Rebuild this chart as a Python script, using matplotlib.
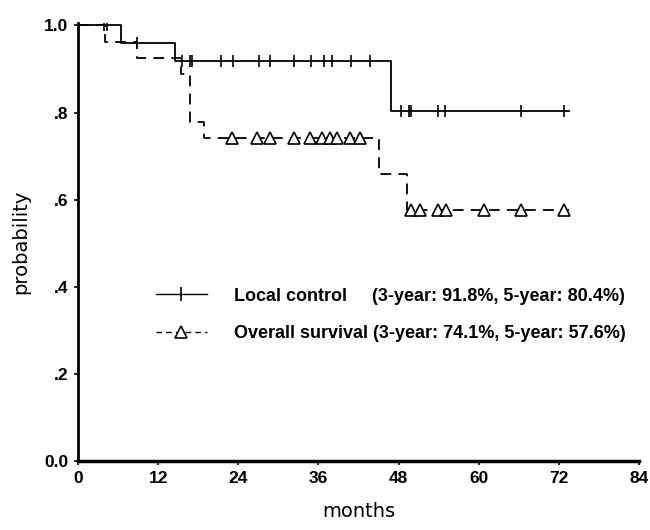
import matplotlib
matplotlib.use("Agg")
import matplotlib.pyplot as plt
from matplotlib.lines import Line2D
from matplotlib.font_manager import FontProperties

# Local control: step times and survival values
lc_times = [0, 6.5, 14.5, 46.9, 73.6]
lc_surv = [1.0, 0.960, 0.918, 0.804, 0.804]
lc_cens = [3.9, 4.4, 8.9, 15.5, 16.7, 17.1, 21.4, 23.2, 27.1, 28.7, 32.4, 34.9,
           36.8, 38.0, 40.9, 43.7, 48.3, 49.6, 49.9, 53.9, 54.9, 66.4, 72.8]

# Overall survival
os_times = [0, 4.1, 8.9, 15.4, 16.7, 18.8, 45.1, 49.3, 73.6]
os_surv = [1.0, 0.963, 0.926, 0.889, 0.778, 0.741, 0.658, 0.576, 0.576]
os_cens = [23.0, 26.8, 28.7, 32.4, 34.8, 36.6, 37.8, 38.8, 40.7, 42.3,
           49.8, 51.2, 53.9, 55.1, 60.8, 66.3, 72.8]

x_ticks = [0, 12, 24, 36, 48, 60, 72, 84]
y_ticks = [0.0, 0.2, 0.4, 0.6, 0.8, 1.0]
y_labels = ["0.0", ".2", ".4", ".6", ".8", "1.0"]

lc_label = "Local control     (3-year: 91.8%, 5-year: 80.4%)"
os_label = "Overall survival (3-year: 74.1%, 5-year: 57.6%)"


def km_at(times, surv, t):
    val = surv[0]
    for ti, si in zip(times, surv):
        if t >= ti:
            val = si
    return val


fig = plt.figure(figsize=(6.5, 5.3), dpi=100)
ax = fig.add_axes([0.12, 0.13, 0.863, 0.826])

ax.step(lc_times, lc_surv, where="post", color="black", lw=1.3)
ax.plot(lc_cens, [km_at(lc_times, lc_surv, t) for t in lc_cens], linestyle="none",
        marker="|", markersize=9, mew=1.2, color="black")

ax.step(os_times, os_surv, where="post", color="black", lw=1.3, linestyle=(0, (6, 4)))
ax.plot(os_cens, [km_at(os_times, os_surv, t) for t in os_cens], linestyle="none",
        marker="^", markersize=9, mfc="white", mec="black", mew=1.2)

ax.set_xlim(0, 84)
ax.set_ylim(0, 1.005)
ax.set_xticks(x_ticks)
ax.set_yticks(y_ticks)
ax.set_yticklabels(y_labels)
tick_fp = FontProperties(family=["Liberation Sans Narrow", "Liberation Sans", "DejaVu Sans"],
                         weight="bold", size=12.5)
for lbl in ax.get_xticklabels() + ax.get_yticklabels():
    lbl.set_fontproperties(tick_fp)
ax.tick_params(direction="out", length=3, width=1.2, pad=4)

for s in ["top", "right"]:
    ax.spines[s].set_visible(False)
ax.spines["left"].set_linewidth(2)
ax.spines["bottom"].set_linewidth(2.5)

ax.set_xlabel("months", fontsize=14, family="DejaVu Sans", labelpad=12)
ax.set_ylabel("probability", fontsize=14, family="DejaVu Sans", labelpad=10)

handles = [
    Line2D([], [], color="black", lw=1, marker="|", markersize=10, mew=1.2),
    Line2D([], [], color="black", lw=1, linestyle=(0, (4, 3)), marker="^",
           markersize=9, mfc="white", mec="black", mew=1.2),
]
leg = fig.legend(handles, [lc_label, os_label], loc="upper left",
                 bbox_to_anchor=(0.215, 0.488), frameon=False, numpoints=1,
                 handlelength=2.8, handletextpad=1.5, labelspacing=1.15,
                 prop=dict(family="Liberation Sans", weight="bold", size=13))

fig.savefig("out.png", dpi=100)
